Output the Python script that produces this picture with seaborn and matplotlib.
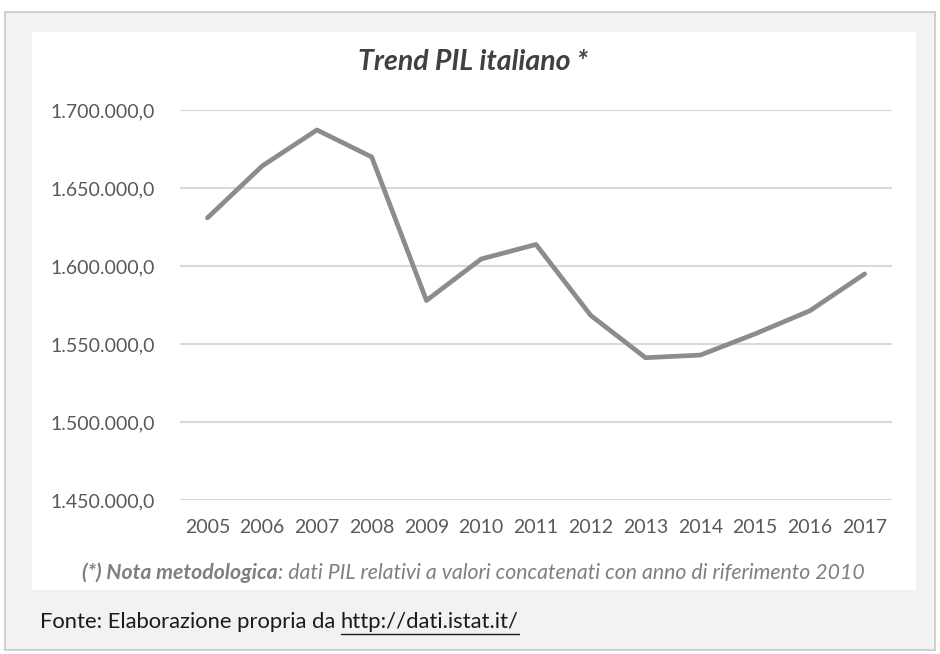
import matplotlib
matplotlib.use("Agg")
import matplotlib.pyplot as plt
import matplotlib.patches as mpatches
import matplotlib.lines as mlines
import seaborn as sns
import pandas as pd
from matplotlib.ticker import FuncFormatter

years = ["2005", "2006", "2007", "2008", "2009", "2010", "2011",
         "2012", "2013", "2014", "2015", "2016", "2017"]
pil = [1630800, 1664100, 1687200, 1669900, 1577900, 1604500, 1613800,
       1568300, 1541200, 1542900, 1556500, 1571300, 1594900]
y_ticks = [1450000, 1500000, 1550000, 1600000, 1650000, 1700000]

title = "Trend PIL italiano *"
note_bold = "(*) Nota metodologica"
note_rest = ": dati PIL relativi a valori concatenati con anno di riferimento 2010"
source_text = "Fonte: Elaborazione propria da "
source_link = "http://dati.istat.it/"

df = pd.DataFrame({"anno": years, "pil": pil})

sns.set_theme(style="white")
plt.rcParams["font.family"] = ["Lato", "DejaVu Sans"]

W, H = 940, 654
fig = plt.figure(figsize=(W / 100, H / 100), dpi=100)
fig.patch.set_facecolor("white")

def fx(px):
    return px / W

def fy(py):
    return 1 - py / H

# outer gray frame and inner white chart panel
fig.patches.append(mpatches.Rectangle((fx(5), fy(650)), fx(930), (650 - 12) / H,
                                      transform=fig.transFigure, facecolor="#f2f2f2",
                                      edgecolor="#c8c8c8", linewidth=1.2, zorder=0))
fig.patches.append(mpatches.Rectangle((fx(32), fy(590)), fx(884), (590 - 32) / H,
                                      transform=fig.transFigure, facecolor="white",
                                      edgecolor="none", zorder=0.5))

ax = fig.add_axes([fx(180), fy(500), fx(892 - 180), (500 - 110) / H])
ax.set_facecolor("none")
ax.set_zorder(2)

sns.lineplot(data=df, x="anno", y="pil", ax=ax, color="#8c8c8c", linewidth=3.4,
             sort=False)

ax.set_xlim(-0.5, len(years) - 0.5)
ax.set_ylim(y_ticks[0], y_ticks[-1])
ax.set_yticks(y_ticks)
ax.yaxis.set_major_formatter(FuncFormatter(
    lambda v, p: f"{v:,.1f}".replace(",", "X").replace(".", ",").replace("X", ".")))
ax.grid(axis="y", color="#d9d9d9", linewidth=1.5)
ax.grid(axis="x", visible=False)
ax.set_axisbelow(True)
for s in ax.spines.values():
    s.set_visible(False)
ax.set_xlabel("")
ax.set_ylabel("")
ax.tick_params(axis="y", labelsize=14, colors="#595959", pad=18, length=0)
ax.tick_params(axis="x", labelsize=14, colors="#595959", pad=14, length=0)

fig.text(fx(473), fy(62), title, ha="center", va="center", fontsize=20.5,
         fontstyle="italic", fontweight="bold", color="#404040", zorder=3)

# methodological note, bold part followed by regular italic text
renderer = fig.canvas.get_renderer()
t1 = fig.text(fx(80), fy(573), note_bold, ha="left", va="center", fontsize=15.3,
              fontstyle="italic", fontweight="bold", color="#7f7f7f", zorder=3)
t2 = fig.text(0, fy(573), note_rest, ha="left", va="center", fontsize=15.3,
              fontstyle="italic", color="#7f7f7f", zorder=3)
w1 = t1.get_window_extent(renderer).width
w2 = t2.get_window_extent(renderer).width
start = 473 - (w1 + w2) / 2
t1.set_x(fx(start))
t2.set_x(fx(start + w1))

s1 = fig.text(fx(40), fy(622), source_text, ha="left", va="center", fontsize=15.8,
              color="#1a1a1a", zorder=3)
ws = s1.get_window_extent(renderer).width
s2 = fig.text(fx(40 + ws), fy(622), source_link, ha="left", va="center", fontsize=15.8,
              color="#1a1a1a", zorder=3)
wl = s2.get_window_extent(renderer).width
fig.lines.append(mlines.Line2D([fx(40 + ws), fx(40 + ws + wl)], [fy(634), fy(634)],
                               transform=fig.transFigure, color="#1a1a1a",
                               linewidth=1.0, zorder=3))

fig.savefig("out.png", dpi=100)
